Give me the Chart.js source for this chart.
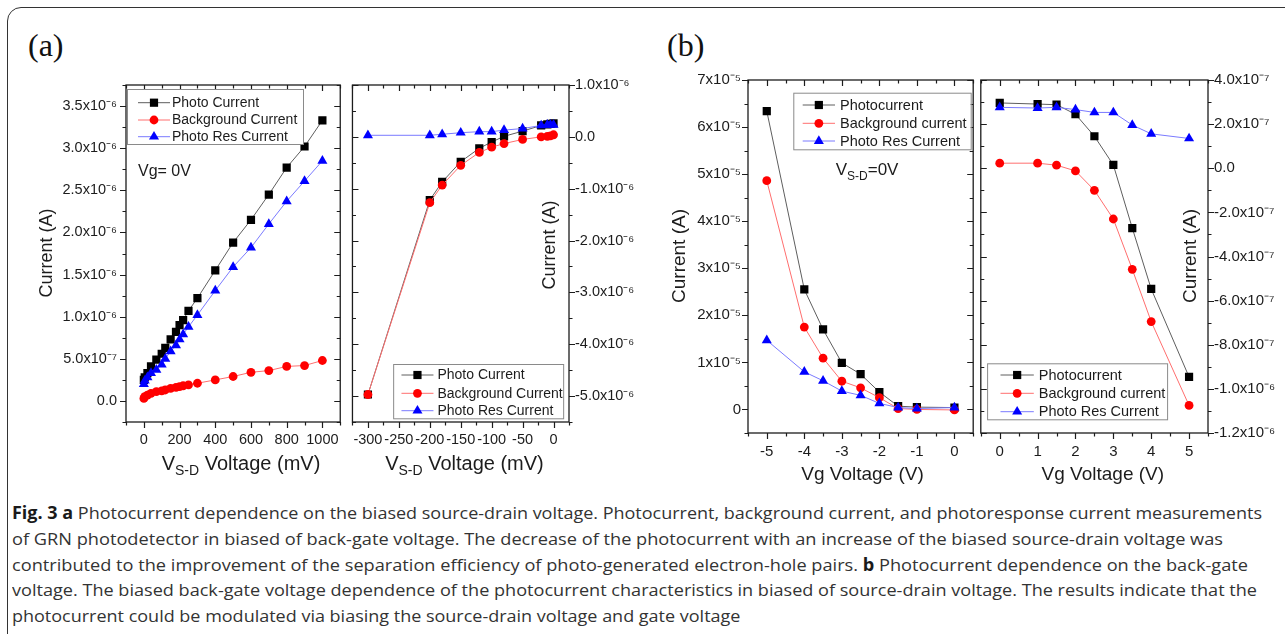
<!DOCTYPE html>
<html lang="en">
<head>
<meta charset="UTF-8">
<title>Fig. 3 Photocurrent vs bias</title>
<script src="https://cdn.jsdelivr.net/npm/chart.js"></script>
<style>
  body {
    margin: 0;
    width: 1285px;
    height: 634px;
    overflow: hidden;
    position: relative;
    background: #fff;
    font-family: 'Liberation Sans', Arial, sans-serif;
  }
  .frame {
    position: absolute;
    left: 7px; top: 7px;
    width: 1300px; height: 660px;
    border: 1.5px solid #333;
    border-radius: 14px;
  }
  canvas { position: absolute; }
  .panel {
    position: absolute;
    font-family: 'Liberation Serif', 'Times New Roman', serif;
    font-size: 32px;
    line-height: 32px;
    color: #111;
  }
  .cap {
    position: absolute;
    left: 12px;
    white-space: nowrap;
    font-family: 'Open Sans', 'Noto Sans', sans-serif;
    font-size: 17px;
    line-height: 26px;
    color: #333;
    transform-origin: 0 50%;
  }
  .cap b { color: #1a1a1a; }
</style>
</head>
<body>
<div class="frame"></div>
<div class="panel" style="left:28px; top:29px;">(a)</div>
<div class="panel" style="left:667px; top:29px;">(b)</div>

<canvas id="a1" width="348" height="430" style="left:0px; top:65px;"></canvas>
<canvas id="a2" width="322" height="430" style="left:344px; top:65px;"></canvas>
<canvas id="b1" width="319" height="440" style="left:660px; top:60px;"></canvas>
<canvas id="b2" width="310" height="440" style="left:975px; top:60px;"></canvas>

<div class="cap" data-right="1262" style="top:500px;"><b>Fig. 3 a</b> Photocurrent dependence on the biased source-drain voltage. Photocurrent, background current, and photoresponse current measurements</div>
<div class="cap" data-right="1223" style="top:526px;">of GRN photodetector in biased of back-gate voltage. The decrease of the photocurrent with an increase of the biased source-drain voltage was</div>
<div class="cap" data-right="1248" style="top:552px;">contributed to the improvement of the separation efficiency of photo-generated electron-hole pairs. <b>b</b> Photocurrent dependence on the back-gate</div>
<div class="cap" data-right="1257" style="top:577px;">voltage. The biased back-gate voltage dependence of the photocurrent characteristics in biased of source-drain voltage. The results indicate that the</div>
<div class="cap" style="top:603px;">photocurrent could be modulated via biasing the source-drain voltage and gate voltage</div>

<script>
  // (a) left: positive source-drain bias, Vg = 0 V
  const a1Voltage = [0, 5, 20, 40, 70, 100, 120, 150, 180, 200, 220, 250, 300, 400, 500, 600, 700, 800, 900, 1000];
  const a1Photo = [0.25e-6, 0.28e-6, 0.33e-6, 0.41e-6, 0.49e-6, 0.56e-6, 0.63e-6, 0.73e-6, 0.82e-6, 0.90e-6, 0.96e-6, 1.07e-6, 1.22e-6, 1.55e-6, 1.88e-6, 2.15e-6, 2.45e-6, 2.77e-6, 3.02e-6, 3.33e-6];
  const a1Background = [0.03e-6, 0.05e-6, 0.07e-6, 0.09e-6, 0.11e-6, 0.12e-6, 0.13e-6, 0.15e-6, 0.16e-6, 0.17e-6, 0.18e-6, 0.19e-6, 0.21e-6, 0.25e-6, 0.29e-6, 0.34e-6, 0.36e-6, 0.41e-6, 0.42e-6, 0.48e-6];
  const a1PhotoRes = [0.20e-6, 0.24e-6, 0.28e-6, 0.33e-6, 0.37e-6, 0.43e-6, 0.50e-6, 0.59e-6, 0.66e-6, 0.73e-6, 0.79e-6, 0.88e-6, 1.02e-6, 1.31e-6, 1.59e-6, 1.82e-6, 2.10e-6, 2.37e-6, 2.61e-6, 2.85e-6];

  // (a) right: negative source-drain bias
  const a2Voltage = [-300, -200, -180, -150, -120, -100, -80, -50, -20, -10, -5, 0];
  const a2Photo = [-4.97e-6, -1.22e-6, -0.87e-6, -0.48e-6, -0.22e-6, -0.10e-6, 0.01e-6, 0.11e-6, 0.22e-6, 0.24e-6, 0.25e-6, 0.26e-6];
  const a2Background = [-4.97e-6, -1.27e-6, -0.93e-6, -0.55e-6, -0.30e-6, -0.20e-6, -0.13e-6, -0.05e-6, 0.00e-6, 0.01e-6, 0.02e-6, 0.04e-6];
  const a2PhotoRes = [0.03e-6, 0.03e-6, 0.05e-6, 0.08e-6, 0.10e-6, 0.10e-6, 0.13e-6, 0.16e-6, 0.22e-6, 0.23e-6, 0.23e-6, 0.23e-6];

  // (b) left: negative gate bias, Vsd = 0 V
  const b1Gate = [-5, -4, -3.5, -3, -2.5, -2, -1.5, -1, 0];
  const b1Photo = [6.34e-5, 2.55e-5, 1.70e-5, 0.99e-5, 0.75e-5, 0.37e-5, 0.07e-5, 0.05e-5, 0.04e-5];
  const b1Background = [4.86e-5, 1.75e-5, 1.09e-5, 0.60e-5, 0.46e-5, 0.25e-5, 0.02e-5, 0.00e-5, -0.01e-5];
  const b1PhotoRes = [1.47e-5, 0.80e-5, 0.61e-5, 0.39e-5, 0.30e-5, 0.13e-5, 0.04e-5, 0.02e-5, 0.04e-5];

  // (b) right: positive gate bias
  const b2Gate = [0, 1, 1.5, 2, 2.5, 3, 3.5, 4, 5];
  const b2Photo = [2.96e-7, 2.91e-7, 2.88e-7, 2.45e-7, 1.45e-7, 0.15e-7, -2.71e-7, -5.47e-7, -9.46e-7];
  const b2Background = [0.23e-7, 0.23e-7, 0.14e-7, -0.12e-7, -1.00e-7, -2.30e-7, -4.58e-7, -6.95e-7, -10.75e-7];
  const b2PhotoRes = [2.76e-7, 2.73e-7, 2.76e-7, 2.66e-7, 2.53e-7, 2.53e-7, 1.96e-7, 1.56e-7, 1.35e-7];

  const aLegendLabels = ['Photo Current', 'Background Current', 'Photo Res Current'];
  const bLegendLabels = ['Photocurrent', 'Background current', 'Photo Res Current'];

  // tick values and their printed labels
  const a1XTicks = [0, 200, 400, 600, 800, 1000];
  const a1YTicks = [0, 0.5e-6, 1.0e-6, 1.5e-6, 2.0e-6, 2.5e-6, 3.0e-6, 3.5e-6];
  const a1YLabels = ['0.0', '5.0x10⁻⁷', '1.0x10⁻⁶', '1.5x10⁻⁶', '2.0x10⁻⁶', '2.5x10⁻⁶', '3.0x10⁻⁶', '3.5x10⁻⁶'];
  const a2XTicks = [-300, -250, -200, -150, -100, -50, 0];
  const a2YTicks = [-5e-6, -4e-6, -3e-6, -2e-6, -1e-6, 0, 1e-6];
  const a2YLabels = ['-5.0x10⁻⁶', '-4.0x10⁻⁶', '-3.0x10⁻⁶', '-2.0x10⁻⁶', '-1.0x10⁻⁶', '0.0', '1.0x10⁻⁶'];
  const b1XTicks = [-5, -4, -3, -2, -1, 0];
  const b1YTicks = [0, 1e-5, 2e-5, 3e-5, 4e-5, 5e-5, 6e-5, 7e-5];
  const b1YLabels = ['0', '1x10⁻⁵', '2x10⁻⁵', '3x10⁻⁵', '4x10⁻⁵', '5x10⁻⁵', '6x10⁻⁵', '7x10⁻⁵'];
  const b2XTicks = [0, 1, 2, 3, 4, 5];
  const b2YTicks = [-1.2e-6, -1.0e-6, -8e-7, -6e-7, -4e-7, -2e-7, 0, 2e-7, 4e-7];
  const b2YLabels = ['-1.2x10⁻⁶', '-1.0x10⁻⁶', '-8.0x10⁻⁷', '-6.0x10⁻⁷', '-4.0x10⁻⁷', '-2.0x10⁻⁷', '0.0', '2.0x10⁻⁷', '4.0x10⁻⁷'];

  const FONT = "'Liberation Sans', Arial, sans-serif";
  const INK = '#1c1c1c';

  const looks = [
    { line: '#5e5e5e', fill: '#000000', shape: 'rect', r: 5.8 },
    { line: '#ff6e6e', fill: '#ff0000', shape: 'circle', r: 4.4 },
    { line: '#7a7aff', fill: '#0000ff', shape: 'triangle', r: 5.8 }
  ];

  function marker(ctx, shape, r, x, y, color) {
    ctx.fillStyle = color;
    ctx.beginPath();
    if (shape === 'rect') {
      const s = r * Math.SQRT1_2;
      ctx.rect(x - s, y - s, 2 * s, 2 * s);
    } else if (shape === 'circle') {
      ctx.arc(x, y, r, 0, Math.PI * 2);
    } else {
      ctx.moveTo(x, y - r);
      ctx.lineTo(x + r * 0.866, y + r * 0.5);
      ctx.lineTo(x - r * 0.866, y + r * 0.5);
      ctx.closePath();
    }
    ctx.fill();
  }

  function minorTicks(min, max, step) {
    const out = [];
    const k0 = Math.ceil(min / step - 1e-9), k1 = Math.floor(max / step + 1e-9);
    for (let k = k0; k <= k1; k++) out.push({ v: k * step, major: k % 2 === 0 });
    return out;
  }

  function drawParts(ctx, parts, x, y, align) {
    let w = 0;
    parts.forEach(p => { ctx.font = p[1] + 'px ' + FONT; w += ctx.measureText(p[0]).width; });
    let cx = align === 'center' ? x - w / 2 : x;
    parts.forEach(p => {
      ctx.font = p[1] + 'px ' + FONT;
      ctx.fillText(p[0], cx, y + (p[2] || 0));
      cx += ctx.measureText(p[0]).width;
    });
  }

  // Origin-like box frame with major/minor ticks, in on mirrored sides
  const originFrame = {
    id: 'originFrame',
    afterDraw(chart, args, o) {
      const { ctx, chartArea: a } = chart;
      const xs = chart.scales.x, ys = chart.scales.y;
      ctx.save();
      ctx.strokeStyle = INK;
      ctx.lineWidth = 1.2;
      ctx.beginPath();
      minorTicks(xs.min, xs.max, o.xMinor).forEach(t => {
        const px = Math.round(xs.getPixelForValue(t.v)) + 0.5, len = t.major ? 6 : 3.5;
        ctx.moveTo(px, a.bottom); ctx.lineTo(px, a.bottom + len);
        ctx.moveTo(px, a.top); ctx.lineTo(px, a.top + len);
      });
      const dir = o.yRight ? 1 : -1;
      const outX = o.yRight ? a.right : a.left, inX = o.yRight ? a.left : a.right;
      minorTicks(ys.min, ys.max, o.yMinor).forEach(t => {
        const py = Math.round(ys.getPixelForValue(t.v)) + 0.5, len = t.major ? 6 : 3.5;
        ctx.moveTo(outX, py); ctx.lineTo(outX + dir * len, py);
        ctx.moveTo(inX, py); ctx.lineTo(inX + dir * len, py);
      });
      ctx.stroke();
      ctx.lineWidth = 1.3;
      ctx.strokeRect(a.left, a.top, a.right - a.left, a.bottom - a.top);
      ctx.restore();
    }
  };

  // boxed legend drawn from the datasets' own styles
  const originLegend = {
    id: 'originLegend',
    afterDraw(chart, args, o) {
      const { ctx, chartArea: a } = chart;
      const x0 = a.left + o.box[0], y0 = a.top + o.box[1];
      ctx.save();
      ctx.fillStyle = '#fff';
      ctx.fillRect(x0, y0, o.box[2], o.box[3]);
      ctx.strokeStyle = '#8a8a8a';
      ctx.lineWidth = 1;
      ctx.strokeRect(x0 + 0.5, y0 + 0.5, o.box[2], o.box[3]);
      chart.data.datasets.forEach((ds, i) => {
        const y = a.top + o.rows[i];
        ctx.strokeStyle = ds.borderColor;
        ctx.lineWidth = 1;
        ctx.beginPath();
        ctx.moveTo(a.left + o.line[0], y);
        ctx.lineTo(a.left + o.line[1], y);
        ctx.stroke();
        marker(ctx, ds.pointStyle, ds.pointRadius, a.left + (o.line[0] + o.line[1]) / 2, y, ds.pointBackgroundColor);
        ctx.fillStyle = INK;
        ctx.font = o.size + 'px ' + FONT;
        ctx.textBaseline = 'middle';
        ctx.textAlign = 'left';
        ctx.fillText(ds.label, a.left + o.text, y + 0.5);
      });
      ctx.restore();
    }
  };

  // axis titles and notes, with real sub/superscripts
  const originText = {
    id: 'originText',
    afterDraw(chart, args, o) {
      const { ctx, chartArea: a } = chart;
      ctx.save();
      ctx.fillStyle = INK;
      o.items.forEach(it => {
        const x = a.left + it.x;
        const y = it.from === 'bottom' ? a.bottom + it.y : a.top + it.y;
        if (it.rotate) {
          ctx.save();
          ctx.translate(x, y);
          ctx.rotate(-Math.PI / 2);
          ctx.textBaseline = 'middle';
          drawParts(ctx, it.parts, 0, 0, 'center');
          ctx.restore();
        } else {
          ctx.textBaseline = 'alphabetic';
          drawParts(ctx, it.parts, x, y, it.align || 'left');
        }
      });
      ctx.restore();
    }
  };

  function series(labels, xs, ys) {
    return ys.map((vals, i) => ({
      label: labels[i],
      data: xs.map((x, j) => ({ x: x, y: vals[j] })),
      showLine: true,
      borderColor: looks[i].line,
      borderWidth: 1,
      pointStyle: looks[i].shape,
      pointRadius: looks[i].r,
      pointBackgroundColor: looks[i].fill,
      pointBorderColor: looks[i].fill,
      pointBorderWidth: 0,
      order: 2 - i
    }));
  }

  function axis(pos, min, max, ticks, labels, size, fontSize, pad) {
    const horizontal = pos === 'bottom';
    return {
      type: 'linear',
      position: pos,
      min: min,
      max: max,
      grid: { display: false, drawTicks: false },
      border: { display: false },
      afterBuildTicks: s => { s.ticks = ticks.map(v => ({ value: v })); },
      afterFit: s => { if (horizontal) s.height = size; else s.width = size; },
      ticks: {
        autoSkip: false,
        maxRotation: 0,
        padding: pad,
        color: INK,
        font: { family: FONT, size: fontSize },
        callback: (v, i) => labels[i]
      }
    };
  }

  function build(id, p) {
    return new Chart(document.getElementById(id), {
      type: 'scatter',
      data: { datasets: series(p.legend, p.xs, p.ys) },
      options: {
        responsive: false,
        animation: false,
        events: [],
        layout: { padding: p.padding },
        scales: {
          x: axis('bottom', p.xRange[0], p.xRange[1], p.xTicks, p.xTicks.map(String), p.xAxisSize, p.font, p.xPad),
          y: axis(p.yRight ? 'right' : 'left', p.yRange[0], p.yRange[1], p.yTicks, p.yLabels, p.yAxisSize, p.font, p.yPad)
        },
        plugins: {
          legend: { display: false },
          tooltip: { enabled: false },
          originFrame: { xMinor: p.xMinor, yMinor: p.yMinor, yRight: p.yRight },
          originLegend: p.box,
          originText: { items: p.text }
        }
      },
      plugins: [originFrame, originLegend, originText]
    });
  }

  const vsd = [['V', 20], ['S-D', 14, 5], [' Voltage (mV)', 20]];
  const vg = [['Vg Voltage (V)', 19]];
  const amps = size => [['Current (A)', size]];

  build('a1', {
    xs: a1Voltage, ys: [a1Photo, a1Background, a1PhotoRes], legend: aLegendLabels,
    xRange: [-100, 1100], yRange: [-0.25e-6, 3.75e-6], xMinor: 100, yMinor: 0.25e-6,
    xTicks: a1XTicks, yTicks: a1YTicks, yLabels: a1YLabels,
    padding: { top: 20, right: 2, left: 0, bottom: 0 }, xAxisSize: 73, yAxisSize: 126,
    font: 14.5, xPad: 9, yPad: 9,
    box: { box: [1, 4, 176, 55], rows: [17.7, 35, 51.7], line: [12, 44], text: 46, size: 14 },
    text: [
      { x: 115, y: 48, from: 'bottom', align: 'center', parts: vsd },
      { x: -79, y: 168, rotate: true, parts: amps(18) },
      { x: 12, y: 91, parts: [['Vg= 0V', 16]] }
    ]
  });

  build('a2', {
    xs: a2Voltage, ys: [a2Photo, a2Background, a2PhotoRes], legend: aLegendLabels,
    xRange: [-325, 25], yRange: [-5.5e-6, 1.0e-6], xMinor: 25, yMinor: 0.5e-6, yRight: true,
    xTicks: a2XTicks, yTicks: a2YTicks, yLabels: a2YLabels,
    padding: { top: 20, right: 0, left: 2, bottom: 0 }, xAxisSize: 73, yAxisSize: 97,
    font: 14.5, xPad: 9, yPad: 6,
    box: { box: [40.7, 279, 170, 54.3], rows: [290, 308.3, 325.7], line: [49, 81], text: 85, size: 14 },
    text: [
      { x: 112, y: 48, from: 'bottom', align: 'center', parts: vsd },
      { x: 198, y: 160, rotate: true, parts: amps(18) }
    ]
  });

  build('b1', {
    xs: b1Gate, ys: [b1Photo, b1Background, b1PhotoRes], legend: bLegendLabels,
    xRange: [-5.5, 0.5], yRange: [-0.5e-5, 7e-5], xMinor: 0.5, yMinor: 0.5e-5,
    xTicks: b1XTicks, yTicks: b1YTicks, yLabels: b1YLabels,
    padding: { top: 20, right: 2, left: 0, bottom: 0 }, xAxisSize: 67, yAxisSize: 88,
    font: 15, xPad: 10, yPad: 7,
    box: { box: [45.3, 12.7, 177.4, 56.6], rows: [25, 43.3, 61], line: [54.7, 87], text: 92, size: 14.5 },
    text: [
      { x: 114.5, y: 47, from: 'bottom', align: 'center', parts: vg },
      { x: -68, y: 176, rotate: true, parts: amps(19) },
      { x: 87.7, y: 94.5, parts: [['V', 17], ['S-D', 12, 5], ['=0V', 17]] }
    ]
  });

  build('b2', {
    xs: b2Gate, ys: [b2Photo, b2Background, b2PhotoRes], legend: bLegendLabels,
    xRange: [-0.5, 5.5], yRange: [-1.2e-6, 4e-7], xMinor: 0.5, yMinor: 1e-7, yRight: true,
    xTicks: b2XTicks, yTicks: b2YTicks, yLabels: b2YLabels,
    padding: { top: 20, right: 0, left: 2, bottom: 0 }, xAxisSize: 67, yAxisSize: 77,
    font: 15, xPad: 10, yPad: 6,
    box: { box: [6.3, 283.3, 180, 56], rows: [295, 313.3, 331.7], line: [19.7, 53], text: 58, size: 14.5 },
    text: [
      { x: 122, y: 47, from: 'bottom', align: 'center', parts: vg },
      { x: 210, y: 176, rotate: true, parts: amps(19) }
    ]
  });

  // fit each caption line to the width it has in the printed figure
  let capScale = 1;
  document.querySelectorAll('.cap').forEach(el => {
    const w = el.getBoundingClientRect().width;
    if (el.dataset.right) {
      const s = (+el.dataset.right - 12) / w;
      if (el === document.querySelector('.cap')) capScale = s;
      el.style.transform = 'scaleX(' + s + ')';
    } else {
      el.style.transform = 'scaleX(' + capScale + ')';
    }
  });
</script>
</body>
</html>
